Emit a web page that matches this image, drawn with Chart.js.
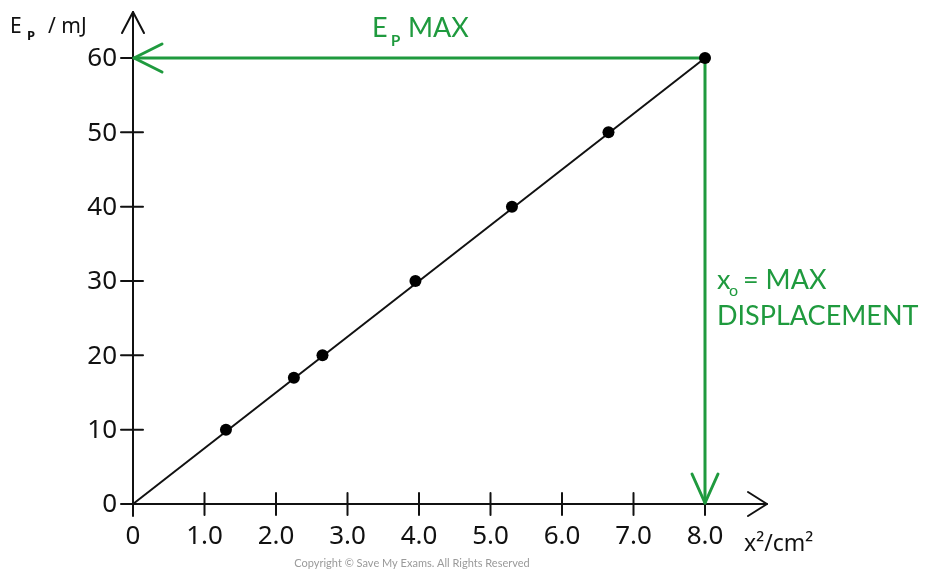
<!DOCTYPE html>
<html>
<head>
<meta charset="utf-8">
<script src="https://cdn.jsdelivr.net/npm/chart.js@4.4.0/dist/chart.umd.min.js"></script>
<style>
html,body{margin:0;padding:0;background:#fff;}
#wrap{width:926px;height:569px;position:relative;}
</style>
</head>
<body>
<div id="wrap"><canvas id="c" width="926" height="569"></canvas></div>
<script>
// ---- data ----
const xSquared = [1.3, 2.25, 2.65, 3.95, 5.3, 6.65, 8.0];      // x² / cm²
const energy   = [10, 17, 20, 30, 40, 50, 60];                  // Ep / mJ
const fitX     = [0, 8.0];
const fitY     = [0, 60];
const xTickValues = [0, 1, 2, 3, 4, 5, 6, 7, 8];
const xTickLabels = ['0', '1.0', '2.0', '3.0', '4.0', '5.0', '6.0', '7.0', '8.0'];
const yTickValues = [0, 10, 20, 30, 40, 50, 60];
const yTickLabels = ['0', '10', '20', '30', '40', '50', '60'];
const maxPoint = {x: 8.0, y: 60};

const GREEN = '#1f9a3e';
const INK = '#111';
const NUMFONT = '"Noto Sans", sans-serif';
const LABFONT = 'Lato, "Noto Sans", sans-serif';

const pts = xSquared.map((x, i) => ({x, y: energy[i]}));
const fit = fitX.map((x, i) => ({x, y: fitY[i]}));

function line(ctx, x1, y1, x2, y2) { ctx.beginPath(); ctx.moveTo(x1, y1); ctx.lineTo(x2, y2); ctx.stroke(); }

const axesPlugin = {
  id: 'axesPlugin',
  beforeDatasetsDraw(chart) {
    const ctx = chart.ctx, xs = chart.scales.x, ys = chart.scales.y;
    const x0 = xs.getPixelForValue(0), y0 = ys.getPixelForValue(0);
    ctx.save();
    ctx.strokeStyle = INK; ctx.lineWidth = 2; ctx.lineCap = 'round'; ctx.lineJoin = 'round';
    // y axis with arrow
    line(ctx, x0, y0 + 12, x0, 12);
    ctx.beginPath(); ctx.moveTo(x0 - 11, 33); ctx.lineTo(x0, 12); ctx.lineTo(x0 + 11, 33); ctx.stroke();
    // x axis with arrow
    line(ctx, x0 - 12, y0, 767, y0);
    ctx.beginPath(); ctx.moveTo(748, y0 - 12); ctx.lineTo(767, y0); ctx.lineTo(748, y0 + 12); ctx.stroke();
    // ticks
    xTickValues.forEach(v => { const px = xs.getPixelForValue(v); if (v !== 0) line(ctx, px, y0 - 11, px, y0 + 11); });
    yTickValues.forEach(v => { const py = ys.getPixelForValue(v); if (v !== 0) line(ctx, x0 - 12, py, x0 + 10, py); });
    // tick labels
    ctx.fillStyle = INK;
    ctx.font = '26px ' + NUMFONT;
    ctx.textAlign = 'center'; ctx.textBaseline = 'middle';
    xTickValues.forEach((v, i) => ctx.fillText(xTickLabels[i], xs.getPixelForValue(v), y0 + 33));
    ctx.textAlign = 'right';
    yTickValues.forEach((v, i) => ctx.fillText(yTickLabels[i], x0 - 16, ys.getPixelForValue(v) + 1));
    // axis titles
    ctx.textAlign = 'left'; ctx.textBaseline = 'alphabetic';
    ctx.font = '21px ' + NUMFONT;
    ctx.fillText('E', 10, 33);
    ctx.font = 'bold 13px ' + NUMFONT;
    ctx.fillText('P', 27, 40);
    ctx.font = '21px ' + NUMFONT;
    ctx.fillText('/ mJ', 48, 33);
    ctx.font = '23px ' + NUMFONT;
    ctx.fillText('x²/cm²', 744, 551);
    // green arrows
    const mx = xs.getPixelForValue(maxPoint.x), my = ys.getPixelForValue(maxPoint.y);
    ctx.strokeStyle = GREEN; ctx.lineWidth = 3;
    line(ctx, mx, my, x0 + 1, my);
    ctx.beginPath(); ctx.moveTo(x0 + 29, my - 14); ctx.lineTo(x0 + 1, my); ctx.lineTo(x0 + 29, my + 14); ctx.stroke();
    line(ctx, mx, my, mx, y0 - 1);
    ctx.beginPath(); ctx.moveTo(mx - 13, y0 - 30); ctx.lineTo(mx, y0 - 1); ctx.lineTo(mx + 13, y0 - 30); ctx.stroke();
    // green labels
    ctx.fillStyle = GREEN;
    ctx.font = '27px ' + LABFONT;
    ctx.fillText('E', 372, 37);
    ctx.font = 'bold 15px ' + LABFONT;
    ctx.fillText('P', 391, 46);
    ctx.font = '27px ' + LABFONT;
    ctx.fillText('MAX', 408, 37);
    ctx.fillText('x', 717, 289);
    ctx.font = '16px ' + LABFONT;
    ctx.fillText('o', 729, 296);
    ctx.font = '27px ' + LABFONT;
    ctx.fillText('= MAX', 743, 289);
    ctx.fillText('DISPLACEMENT', 717, 325);
    // copyright
    ctx.fillStyle = '#9a9a9a';
    ctx.font = '11px ' + LABFONT;
    ctx.textAlign = 'center';
    ctx.fillText('Copyright © Save My Exams. All Rights Reserved', 412, 567);
    ctx.restore();
  }
};

new Chart(document.getElementById('c'), {
  type: 'scatter',
  data: {
    datasets: [
      { data: fit, showLine: true, borderColor: INK, borderWidth: 2, pointRadius: 0, clip: false, order: 2 },
      { data: pts, pointRadius: 6, pointBackgroundColor: '#000', pointBorderColor: '#000', pointBorderWidth: 0, clip: false, order: 1 }
    ]
  },
  options: {
    responsive: false,
    animation: false,
    layout: { padding: { left: 133, right: 221, top: 58, bottom: 65 } },
    plugins: { legend: { display: false }, tooltip: { enabled: false } },
    scales: {
      x: { type: 'linear', min: 0, max: 8, display: false },
      y: { type: 'linear', min: 0, max: 60, display: false }
    }
  },
  plugins: [axesPlugin]
});
</script>
</body>
</html>
